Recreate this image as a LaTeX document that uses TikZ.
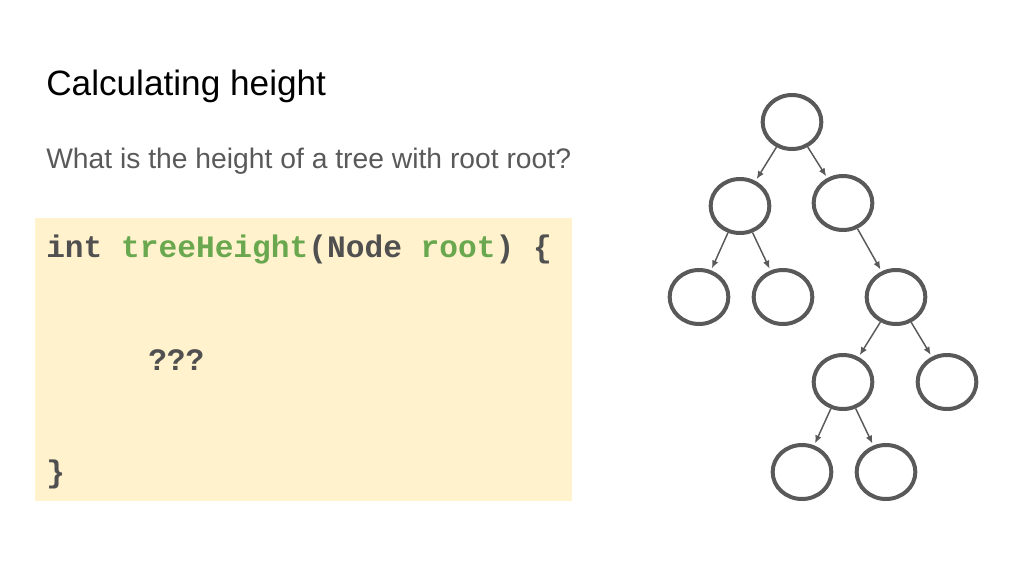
\documentclass[tikz,border=0pt]{standalone}
\usepackage{fontspec}
\setmainfont{Liberation Sans}
\newfontfamily\codefont{Liberation Mono}
\usetikzlibrary{arrows.meta,shapes.geometric}
\definecolor{Ink}{RGB}{89,89,89}
\definecolor{CodeInk}{RGB}{80,80,80}
\definecolor{CodeGreen}{RGB}{106,168,79}
\definecolor{PaleYellow}{RGB}{255,242,204}
\tikzset{
  title/.style={anchor=base west,font=\fontsize{26.4}{30}\selectfont,text=black,inner sep=0pt},
  subtitle/.style={anchor=base west,font=\fontsize{21.2}{25}\selectfont,text=Ink,inner sep=0pt},
  code/.style={anchor=base west,font=\codefont\bfseries\fontsize{23.4}{28}\selectfont,text=CodeInk,inner sep=0pt},
  codebox/.style={fill=PaleYellow,draw=none},
  treenode/.style={ellipse,draw=Ink,line width=3pt,minimum width=44pt,minimum height=40.5pt,inner sep=0pt},
  edge/.style={-{Latex[length=6pt,width=5pt]},line width=1.1pt,draw=Ink,shorten >=1.5pt}
}
\newcommand{\kw}[1]{\textcolor{CodeGreen}{#1}}
\begin{document}
\begin{tikzpicture}[x=0.75pt,y=-0.75pt]
  \useasboundingbox (0,0) rectangle (1024,576);
  % slide text
  \node[title] (head) at (46,95) {Calculating height};
  \node[subtitle] (question) at (46,168) {What is the height of a tree with root root?};
  % code panel
  \fill[codebox] (35,218) rectangle (572,501);
  \node[code] (sig) at (46,257) {int \kw{treeHeight}(Node \kw{root}) \{};
  \node[code] (body) at (148,370) {???};
  \node[code] (close) at (46,482) {\}};
  % tree
  \node[treenode] (root) at (792,122) {};
  \node[treenode] (a) at (740,206) {};
  \node[treenode] (b) at (843,203) {};
  \node[treenode] (aa) at (699,297) {};
  \node[treenode] (ab) at (783,297) {};
  \node[treenode] (bb) at (896,297) {};
  \node[treenode] (bba) at (843,382) {};
  \node[treenode] (bbb) at (947,382) {};
  \node[treenode] (bbaa) at (802,472) {};
  \node[treenode] (bbab) at (886,472) {};
  \draw[edge] (root) -- (a);
  \draw[edge] (root) -- (b);
  \draw[edge] (a) -- (aa);
  \draw[edge] (a) -- (ab);
  \draw[edge] (b) -- (bb);
  \draw[edge] (bb) -- (bba);
  \draw[edge] (bb) -- (bbb);
  \draw[edge] (bba) -- (bbaa);
  \draw[edge] (bba) -- (bbab);
\end{tikzpicture}
\end{document}
